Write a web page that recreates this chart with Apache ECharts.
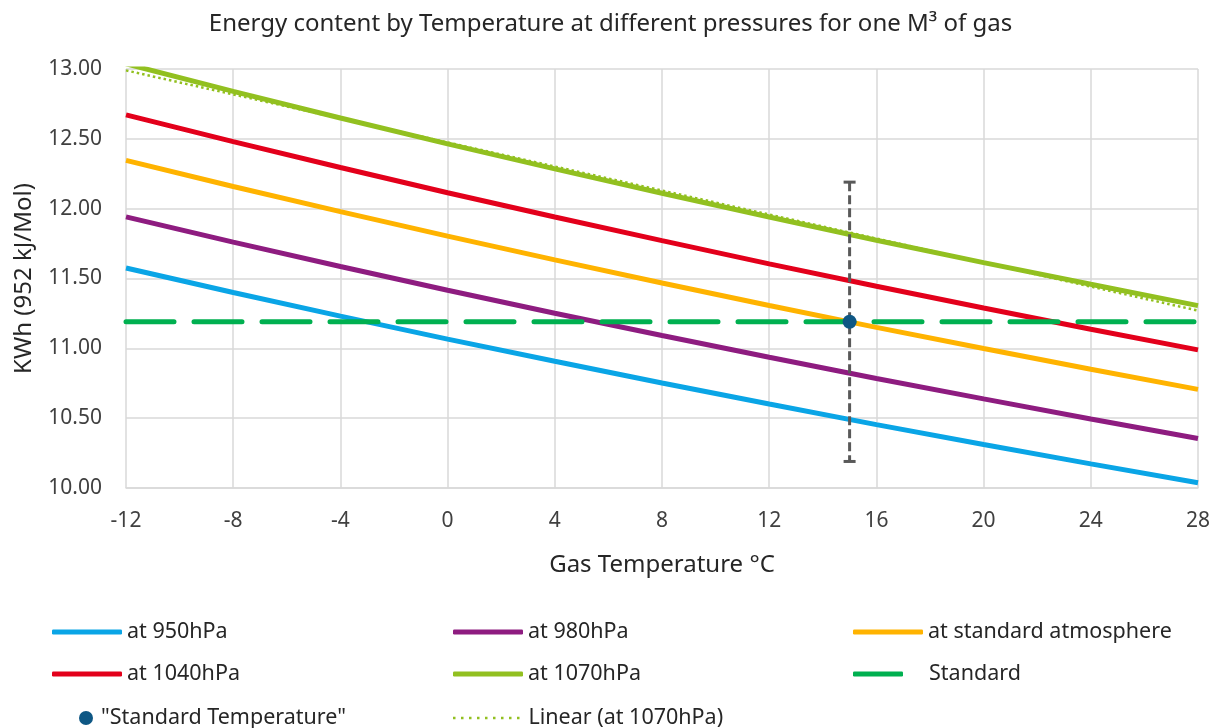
<!DOCTYPE html>
<html>
<head>
<meta charset="utf-8">
<script src="https://cdn.jsdelivr.net/npm/echarts@6/dist/echarts.min.js"></script>
<style>html,body{margin:0;padding:0;background:#fff;}#c{width:1221px;height:728px;}</style>
</head>
<body>
<div id="c"></div>
<script>
// ---- data ----
const temps = [-12, -8, -4, 0, 4, 8, 12, 16, 20, 24, 28];
const p950  = [11.575, 11.400, 11.231, 11.066, 10.907, 10.752, 10.601, 10.454, 10.312, 10.173, 10.038];
const p980  = [11.941, 11.760, 11.586, 11.416, 11.251, 11.092, 10.936, 10.784, 10.638, 10.494, 10.355];
const pStd  = [12.346, 12.159, 11.979, 11.803, 11.633, 11.468, 11.307, 11.150, 10.999, 10.850, 10.706];
const p1040 = [12.672, 12.480, 12.295, 12.114, 11.940, 11.771, 11.605, 11.444, 11.289, 11.137, 10.989];
const p1070 = [13.037, 12.840, 12.649, 12.464, 12.285, 12.110, 11.940, 11.774, 11.614, 11.459, 11.306];
const standardX = [-12, 28];
const standardY = [11.19, 11.19];
const stdTempPoint = [15, 11.19];
const stdTempErr = [10.19, 12.19];
const linearX = [-12, 28];
const linearY = [12.99, 11.27];
const yTicks = [10, 10.5, 11, 11.5, 12, 12.5, 13];

const FONT = 'Noto Sans';
const pair = (xs, ys) => xs.map((x, i) => [x, ys[i]]);

const lineSeries = (name, ys, color) => ({
  name, type: 'line', data: pair(temps, ys), showSymbol: false, symbol: 'none',
  lineStyle: { color, width: 5 }, itemStyle: { color }, clip: true, z: 2
});

// dotted legend icon: small squares spaced 8 px
let dotPath = 'path://';
for (let i = 0; i < 9; i++) dotPath += 'M' + (i * 8) + ',0h2.5v2.5h-2.5z';

const LEG_FONT = 21.5;
const LEG_LH = 24;
const rows = [632, 674, 718];
const legendDefs = [
  { name: 'at 950hPa', left: 52, row: 0, icon: 'roundRect', w: 70, h: 5, pad: 0 },
  { name: 'at 980hPa', left: 453, row: 0, icon: 'roundRect', w: 70, h: 5, pad: 0 },
  { name: 'at standard atmosphere', left: 853, row: 0, icon: 'roundRect', w: 70, h: 5, pad: 0 },
  { name: 'at 1040hPa', left: 52, row: 1, icon: 'roundRect', w: 70, h: 5, pad: 0 },
  { name: 'at 1070hPa', left: 453, row: 1, icon: 'roundRect', w: 70, h: 5, pad: 0 },
  { name: 'Standard', left: 853, row: 1, icon: 'roundRect', w: 50, h: 5, pad: 21 },
  { name: '"Standard Temperature"', left: 79, row: 2, icon: 'circle', w: 14, h: 14, pad: 3 },
  { name: 'Linear (at 1070hPa)', left: 453, row: 2, icon: dotPath, w: 66.5, h: 2.5, pad: 4 }
];
const legends = legendDefs.map(d => ({
  data: [{ name: d.name, icon: d.icon }], left: d.left, top: rows[d.row] - LEG_LH / 2, padding: 0,
  itemWidth: d.w, itemHeight: d.h, itemGap: 0, selectedMode: false,
  textStyle: { fontFamily: FONT, fontSize: LEG_FONT, lineHeight: LEG_LH, color: '#262626', padding: [0, 0, 0, d.pad] }
}));

const chart = echarts.init(document.getElementById('c'), null, { renderer: 'canvas' });
chart.setOption({
  animation: false,
  backgroundColor: '#fff',
  title: {
    text: 'Energy content by Temperature at different pressures for one M³ of gas',
    left: 'center', top: 7,
    textStyle: { fontFamily: FONT, fontSize: 24, fontWeight: 'normal', color: '#262626' }
  },
  legend: legends,
  grid: { left: 126, right: 23, top: 69, bottom: 240, containLabel: false },
  xAxis: {
    type: 'value', min: -12, max: 28, interval: 4,
    name: 'Gas Temperature °C', nameLocation: 'middle', nameGap: 65,
    nameTextStyle: { fontFamily: FONT, fontSize: 24, color: '#262626' },
    axisLine: { show: true, lineStyle: { color: '#D9D9D9', width: 1.5 } },
    axisTick: { show: false },
    axisLabel: { fontFamily: FONT, fontSize: 21, color: '#404040', margin: 23 },
    splitLine: { show: true, lineStyle: { color: '#D9D9D9', width: 1.5 } }
  },
  yAxis: {
    type: 'value', min: yTicks[0], max: yTicks[yTicks.length - 1], interval: 0.5,
    name: 'KWh (952 kJ/Mol)', nameLocation: 'middle', nameGap: 90, nameRotate: 90,
    nameTextStyle: { fontFamily: FONT, fontSize: 24, color: '#262626' },
    axisLine: { show: false }, axisTick: { show: false },
    axisLabel: { fontFamily: FONT, fontSize: 21, color: '#404040', margin: 24,
      formatter: v => v.toFixed(2) },
    splitLine: { show: true, lineStyle: { color: '#D9D9D9', width: 1.5 } }
  },
  series: [
    lineSeries('at 950hPa', p950, '#0AA5E6'),
    lineSeries('at 980hPa', p980, '#8E1C80'),
    lineSeries('at standard atmosphere', pStd, '#FFB300'),
    lineSeries('at 1040hPa', p1040, '#E3001B'),
    lineSeries('at 1070hPa', p1070, '#92C020'),
    {
      name: 'Standard', type: 'line', data: pair(standardX, standardY), showSymbol: false, symbol: 'none',
      lineStyle: { color: '#00B050', width: 5, type: [48, 20], cap: 'round' }, itemStyle: { color: '#00B050' }, z: 3
    },
    {
      name: 'Linear (at 1070hPa)', type: 'line', data: pair(linearX, linearY), showSymbol: false, symbol: 'none',
      lineStyle: { color: '#92C020', width: 2.5, type: [2.5, 3] }, itemStyle: { color: '#92C020' }, z: 4
    },
    {
      name: 'error', type: 'custom', z: 5,
      data: [[stdTempPoint[0], stdTempErr[0], stdTempErr[1]]],
      encode: { x: 0, y: [1, 2] },
      renderItem: (params, api) => {
        const x = api.value(0);
        const bot = api.coord([x, api.value(1)]);
        const top = api.coord([x, api.value(2)]);
        const st = { stroke: '#595959', lineWidth: 3 };
        return {
          type: 'group', children: [
            { type: 'line', shape: { x1: top[0], y1: top[1], x2: bot[0], y2: bot[1] }, style: Object.assign({ lineDash: [9, 4] }, st) },
            { type: 'line', shape: { x1: top[0] - 6, y1: top[1], x2: top[0] + 6, y2: top[1] }, style: st },
            { type: 'line', shape: { x1: bot[0] - 6, y1: bot[1], x2: bot[0] + 6, y2: bot[1] }, style: st }
          ]
        };
      }
    },
    {
      name: '"Standard Temperature"', type: 'scatter', data: [stdTempPoint], symbol: 'circle', symbolSize: 14,
      itemStyle: { color: '#0E5784', opacity: 1 }, z: 6
    }
  ]
});
</script>
</body>
</html>
